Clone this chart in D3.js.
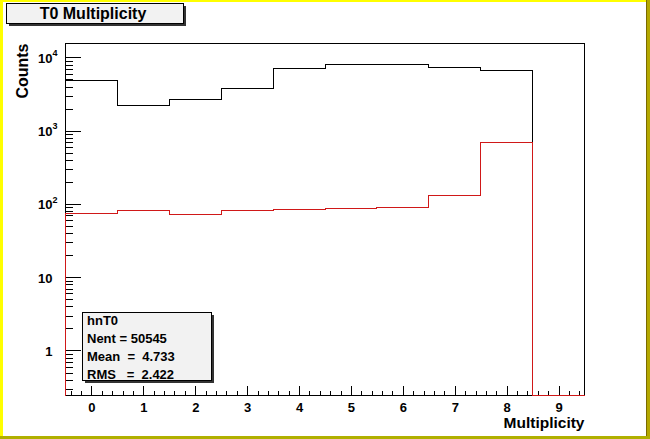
<!DOCTYPE html>
<html>
<head>
<meta charset="utf-8">
<title>T0 Multiplicity</title>
<script src="https://d3js.org/d3.v7.min.js"></script>
<style>
  body { margin: 0; background: #fff; }
  svg text { font-family: "Liberation Sans", Arial, sans-serif; font-weight: bold; fill: #000; }
</style>
</head>
<body>
<svg width="650" height="439"></svg>
<script>
// histogram contents, one bin per multiplicity value
const bins = [0, 1, 2, 3, 4, 5, 6, 7, 8, 9]
const allCounts = [4850, 2210, 2670, 3740, 7010, 7950, 7920, 7230, 6580, 0]
const redCounts = [75, 82, 72, 82, 85, 86, 89, 131, 696, 0]
const xTicks = [0, 1, 2, 3, 4, 5, 6, 7, 8, 9]
const yTicks = [1, 10, 100, 1000, 10000]
const statLines = ["hnT0", "Nent = 50545", "Mean  =  4.733", "RMS   =  2.422"]

const svg = d3.select("svg")
const width = +svg.attr("width")
const height = +svg.attr("height")
const margin = { top: 43.5, left: 65.5 }
const frameW = 519, frameH = 352

// canvas border (yellow bevel)
svg.append("rect").attr("width", width).attr("height", height).attr("fill", "#fff")
svg.append("rect").attr("x", 0).attr("y", 0).attr("width", width).attr("height", 2).attr("fill", "#ffff00")
svg.append("rect").attr("x", 0).attr("y", 0).attr("width", 3).attr("height", height).attr("fill", "#ffff00")
svg.append("rect").attr("x", width - 4).attr("y", 0).attr("width", 4).attr("height", height).attr("fill", "#b4a800")
svg.append("rect").attr("x", width - 4).attr("y", 0).attr("width", 1).attr("height", height).attr("fill", "#7a6a00")
svg.append("rect").attr("x", 0).attr("y", height - 3).attr("width", width).attr("height", 3).attr("fill", "#b0b000")

const x = d3.scaleLinear().domain([-0.5, 9.5]).range([margin.left, margin.left + frameW])
const yMin = 0.243, yMax = 15500
const y = d3.scaleLog().domain([yMin, yMax]).range([margin.top + frameH, margin.top])

// frame
svg.append("rect")
    .attr("x", margin.left).attr("y", margin.top)
    .attr("width", frameW).attr("height", frameH)
    .attr("fill", "none").attr("stroke", "#000").attr("shape-rendering", "crispEdges")

// x axis: minor ticks every 0.2, major at integers
const xMinor = d3.range(-0.4, 9.5, 0.2).filter(v => Math.abs(v - Math.round(v)) > 0.01)
svg.append("g").attr("transform", `translate(0,${margin.top + frameH})`)
    .call(d3.axisBottom(x).tickValues(xMinor).tickSize(-5).tickSizeOuter(0).tickFormat(""))
const gx = svg.append("g").attr("transform", `translate(0,${margin.top + frameH})`)
    .call(d3.axisBottom(x).tickValues(xTicks).tickSize(-10).tickSizeOuter(0).tickPadding(7).tickFormat(d3.format("d")))

// y axis: decades major, 2..9 minor
const yMinor = []
for (let dec = 0.1; dec <= 10000; dec *= 10) {
    for (let m = 2; m <= 9; m++) {
        const v = m * dec
        if (v >= yMin && v <= yMax) yMinor.push(v)
    }
}
svg.append("g").attr("transform", `translate(${margin.left},0)`)
    .call(d3.axisLeft(y).tickValues(yMinor).tickSize(-7).tickSizeOuter(0).tickFormat(""))
const gy = svg.append("g").attr("transform", `translate(${margin.left},0)`)
    .call(d3.axisLeft(y).tickValues(yTicks).tickSize(-15).tickSizeOuter(0).tickPadding(13)
        .tickFormat(d => d < 100 ? String(d) : "10"))

gy.selectAll(".tick text").each(function (d) {
    if (d >= 100) {
        const t = d3.select(this).attr("x", -8)
        t.append("tspan").attr("dy", "-0.75em").attr("font-size", "9px").text(Math.round(Math.log10(d)))
    }
})

svg.selectAll(".domain").remove()
svg.selectAll(".tick line").attr("stroke", "#000").attr("shape-rendering", "crispEdges")
svg.selectAll(".tick text").attr("font-size", "13px").attr("font-family", null)
gy.selectAll(".tick text").attr("dy", "0.38em")

// histogram outlines
const stepPoints = counts => {
    const pts = [[-0.5, yMin]]
    bins.forEach((b, i) => {
        const v = Math.max(counts[i], yMin)
        pts.push([b - 0.5, v], [b + 0.5, v])
    })
    pts.push([9.5, yMin])
    return pts
}
const line = d3.line().x(d => x(d[0])).y(d => y(d[1]))

svg.append("path").attr("d", line(stepPoints(allCounts)))
    .attr("fill", "none").attr("stroke", "#000").attr("stroke-width", 1).attr("shape-rendering", "crispEdges")
svg.append("path").attr("d", line(stepPoints(redCounts)))
    .attr("fill", "none").attr("stroke", "#d01818").attr("stroke-width", 1).attr("shape-rendering", "crispEdges")

// axis titles
svg.append("text")
    .attr("transform", `translate(28,${margin.top}) rotate(-90)`)
    .attr("text-anchor", "end").attr("font-size", "16px")
    .text("Counts")
svg.append("text")
    .attr("x", margin.left + frameW).attr("y", 428)
    .attr("text-anchor", "end").attr("font-size", "15.5px")
    .text("Multiplicity")

// title box
const boxWithShadow = (bx, by, bw, bh) => {
    svg.append("rect").attr("x", bx + 2).attr("y", by + 2).attr("width", bw).attr("height", bh)
        .attr("fill", "#333").attr("shape-rendering", "crispEdges")
    svg.append("rect").attr("x", bx).attr("y", by).attr("width", bw).attr("height", bh)
        .attr("fill", "#f2f2f2").attr("stroke", "#000").attr("shape-rendering", "crispEdges")
}
boxWithShadow(6.5, 3.5, 177, 20)
svg.append("text").attr("x", 93).attr("y", 19).attr("text-anchor", "middle")
    .attr("font-size", "16px").text("T0 Multiplicity")

// stats box
boxWithShadow(82.5, 312.5, 129, 68)
svg.append("g").selectAll("text")
    .data(statLines)
    .enter()
    .append("text")
    .attr("x", 87)
    .attr("y", (d, i) => 325 + i * 18)
    .attr("font-size", "13px")
    .style("white-space", "pre")
    .attr("xml:space", "preserve")
    .text(d => d)
</script>
</body>
</html>
